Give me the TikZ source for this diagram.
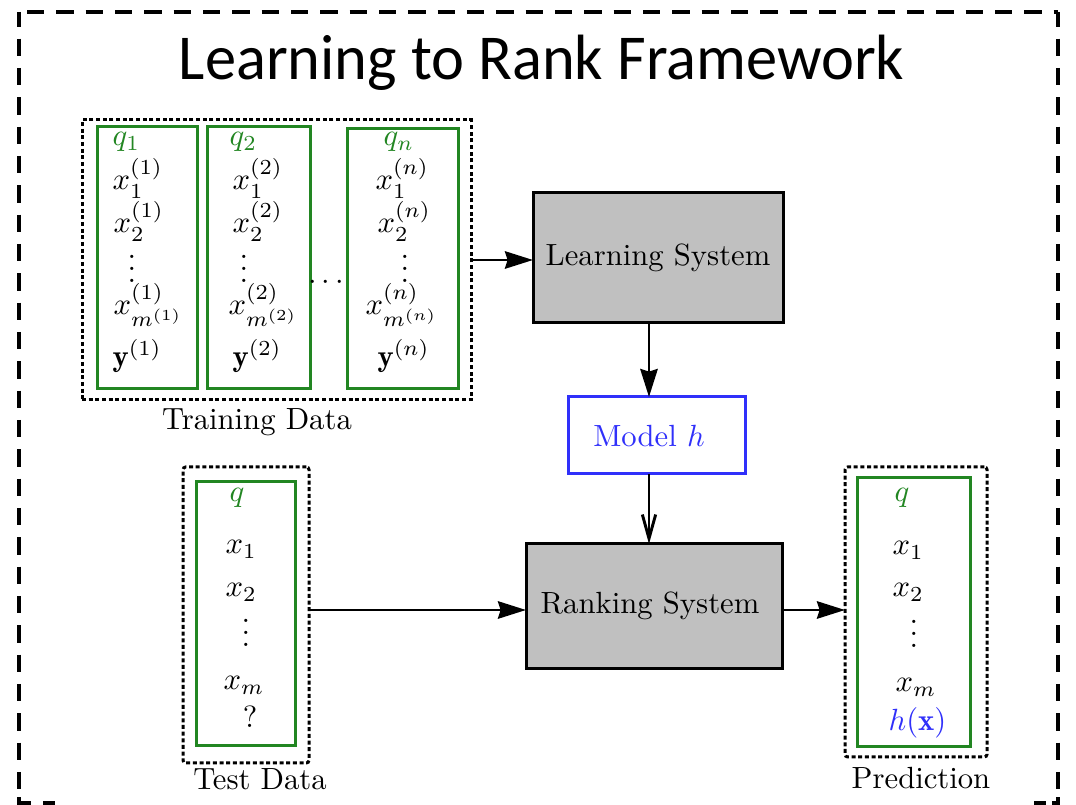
\documentclass[tikz,border=0pt]{standalone}
\usepackage{fontspec}
\newfontfamily\titlefont{Carlito}
\usetikzlibrary{arrows.meta,fit}
\definecolor{qgreen}{RGB}{34,134,34}
\definecolor{hblue}{RGB}{48,48,250}
\definecolor{sysgray}{RGB}{192,192,192}
% a column of three dots without the extra space above it
\newcommand\dotcol{\vbox{\baselineskip3.8pt\lineskiplimit0pt\hbox{.}\hbox{.}\hbox{.}}}
\begin{document}
\begin{tikzpicture}[x=0.75pt,y=-0.75pt,
  txt/.style={inner sep=0pt,scale=2.3,font=\fontsize{10}{12}\selectfont},
  boxfit/.style={inner sep=0pt,outer sep=0pt},
  groupbox/.style={boxfit,draw=qgreen,line width=2.25pt},
  dotbox/.style={boxfit,draw,line width=2.25pt,dash pattern=on 3pt off 2pt},
  sysbox/.style={boxfit,draw,fill=sysgray,line width=2.25pt},
  modelbox/.style={boxfit,draw=hblue,line width=2.25pt},
  flow/.style={line width=2.2pt,-{Stealth[length=21pt,width=13pt,inset=2pt]}},
  openflow/.style={line width=2.2pt,-{Straight Barb[length=18pt,width=10pt,line width=2.2pt]}},
  frametb/.style={line width=2.6pt,dash pattern=on 13pt off 9pt,dash phase=16pt},
  framelr/.style={line width=2.8pt,dash pattern=on 13pt off 9pt,dash phase=2pt}]
\useasboundingbox (0,0) rectangle (1076,805);

% outer dashed frame
\coordinate (ftl) at (19,12);
\coordinate (ftr) at (1058,12);
\coordinate (fbl) at (19,803);
\coordinate (fbr) at (1058,803);
\draw[frametb] (ftl) -- (ftr);
\draw[framelr] (ftl) -- (fbl);
\draw[framelr] (ftr) -- (fbr);
\draw[line width=2.6pt] (19,797) -- (fbl) -- (31,803) (43,803) -- (55,803);
\draw[line width=2.6pt] (1034,803) -- (1046,803) (1052,803) -- (fbr) -- (1058,797);

% title
\node[inner sep=0pt,anchor=base,xscale=0.975,font=\titlefont\fontsize{48}{58}\selectfont]
  (title) at (541.5,80) {Learning to Rank Framework};

% training data
\node[dotbox,fit={(82,120)(471,400)}] (train) {};
\node[groupbox,fit={(97,127)(197,389)}] (g1) {};
\node[groupbox,fit={(207,127)(310,389)}] (g2) {};
\node[groupbox,fit={(347,129)(458,389)}] (gn) {};

\node[txt,anchor=base west,text=qgreen] (q1) at (112,146) {$q_1$};
\node[txt,anchor=base west] (x11) at (112,190) {$x_1^{(1)}$};
\node[txt,anchor=base west] (x21) at (113,233) {$x_2^{(1)}$};
\node[txt] (v1) at (132,269) {\dotcol};
\node[txt,anchor=base west] (xm1) at (113,315) {$x_{m^{(1)}}^{(1)}$};
\node[txt,anchor=base west] (y1) at (112,367) {$\mathbf{y}^{(1)}$};

\node[txt,anchor=base west,text=qgreen] (q2) at (229,146) {$q_2$};
\node[txt,anchor=base west] (x12) at (232,190) {$x_1^{(2)}$};
\node[txt,anchor=base west] (x22) at (232,233) {$x_2^{(2)}$};
\node[txt] (v2) at (244,269) {\dotcol};
\node[txt,anchor=base west] (xm2) at (228,315) {$x_{m^{(2)}}^{(2)}$};
\node[txt,anchor=base west] (y2) at (232,367) {$\mathbf{y}^{(2)}$};

\node[txt,anchor=base west,text=qgreen] (qn) at (383,146) {$q_n$};
\node[txt,anchor=base west] (x1n) at (375,190) {$x_1^{(n)}$};
\node[txt,anchor=base west] (x2n) at (377,233) {$x_2^{(n)}$};
\node[txt] (vn) at (405,269) {\dotcol};
\node[txt,anchor=base west] (xmn) at (365,315) {$x_{m^{(n)}}^{(n)}$};
\node[txt,anchor=base west] (yn) at (377,367) {$\mathbf{y}^{(n)}$};

\node[txt,anchor=base] (gap) at (326,290) {$\cdots$};
\node[txt,anchor=base] (trainlbl) at (257,430) {Training Data};

% systems and model
\node[sysbox,fit={(533,193)(783,323)}] (learn) {};
\node[txt] (learntxt) at (learn.center) {Learning System};
\node[modelbox,fit={(568,397)(745,474)}] (model) {};
\node[txt,text=hblue] (modeltxt) at (649,436) {Model $h$};
\node[sysbox,fit={(526,544)(782,669)}] (rank) {};
\node[txt] (ranktxt) at (650,606) {Ranking System};

% test data
\node[dotbox,rounded corners=2pt,fit={(183,467)(309,763)}] (test) {};
\node[groupbox,fit={(196,482)(295,746)}] (tg) {};
\node[txt,anchor=base,text=qgreen] (tq) at (237,502) {$q$};
\node[txt,anchor=base west] (tx1) at (225,554) {$x_1$};
\node[txt,anchor=base west] (tx2) at (225,597) {$x_2$};
\node[txt] (tv) at (246,633) {\dotcol};
\node[txt,anchor=base west] (txm) at (223,690) {$x_m$};
\node[txt,anchor=base] (tunk) at (250,728) {?};
\node[txt,anchor=base] (testlbl) at (260,789) {Test Data};

% prediction
\node[dotbox,rounded corners=2pt,fit={(845,467)(987,757)}] (pred) {};
\node[groupbox,fit={(857,478)(970,747)}] (pg) {};
\node[txt,anchor=base,text=qgreen] (pq) at (902,502) {$q$};
\node[txt,anchor=base west] (px1) at (892,555) {$x_1$};
\node[txt,anchor=base west] (px2) at (892,597) {$x_2$};
\node[txt] (pv) at (914,634) {\dotcol};
\node[txt,anchor=base west] (pxm) at (895,692) {$x_m$};
\node[txt,anchor=base west,text=hblue] (ph) at (888,730) {$h(\mathbf{x})$};
\node[txt,anchor=base] (predlbl) at (921,788) {Prediction};

% connectors
\coordinate (flowy) at (0,610);
\draw[flow] (train.east) -- (train.east -| learn.west);
\draw[flow] (learn.south -| modeltxt) -- (model.north -| modeltxt);
\draw[openflow] (model.south -| modeltxt) -- (rank.north -| modeltxt);
\draw[flow] (test.east |- flowy) -- (rank.west |- flowy);
\draw[flow] (rank.east |- flowy) -- (pred.west |- flowy);
\end{tikzpicture}
\end{document}
